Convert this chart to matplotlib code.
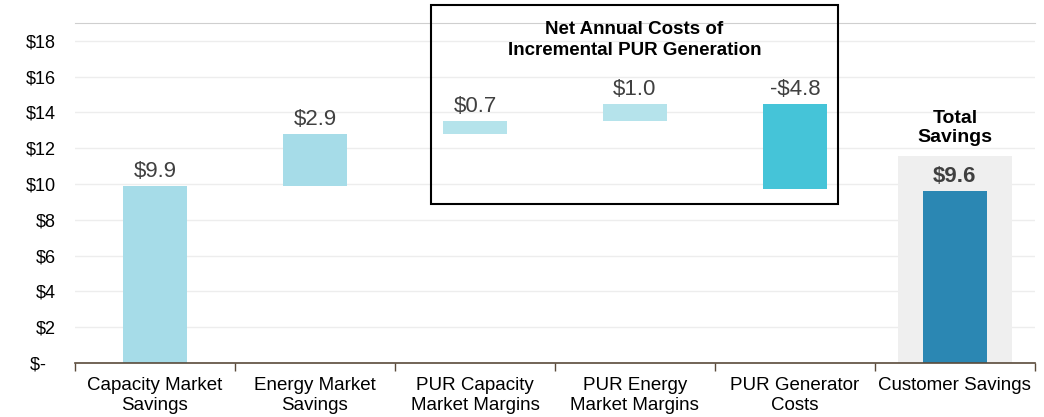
import matplotlib.pyplot as plt
from matplotlib.patches import Rectangle

plt.rcParams['font.family'] = ['Liberation Sans', 'DejaVu Sans']

categories = ['Capacity Market\nSavings', 'Energy Market\nSavings', 'PUR Capacity\nMarket Margins',
              'PUR Energy\nMarket Margins', 'PUR Generator\nCosts', 'Customer Savings']
changes = [9.9, 2.9, 0.7, 1.0, -4.8]
total = 9.6
labels = ['$9.9', '$2.9', '$0.7', '$1.0', '-$4.8', '$9.6']
colors = ['#a6dce8', '#a6dce8', '#b5e3eb', '#b5e3eb', '#45c4d8', '#2b87b3']
yticks = [0, 2, 4, 6, 8, 10, 12, 14, 16, 18]
ytick_labels = ['$-  ', '$2', '$4', '$6', '$8', '$10', '$12', '$14', '$16', '$18']

# waterfall bottoms / heights
bottoms = []
heights = []
running = 0.0
for c in changes:
    if c >= 0:
        bottoms.append(running)
        heights.append(c)
    else:
        bottoms.append(running + c)
        heights.append(-c)
    running += c
bottoms.append(0)
heights.append(total)

fig = plt.figure(figsize=(10.44, 4.17), dpi=100)
ax = fig.add_axes([0.0718, 0.1295, 0.9195, 0.8153])

x = list(range(len(categories)))

# gray backdrop for the total
ax.bar(5, 11.55, width=0.71, color='#efefef', zorder=1)
ax.bar(x, heights, bottom=bottoms, width=0.4, color=colors, zorder=2)

for i, (b, h, lab) in enumerate(zip(bottoms, heights, labels)):
    top = b + h
    if i == 5:
        ax.text(i, top + 0.25, lab, ha='center', va='bottom', fontsize=16,
                fontweight='bold', color='#404040', zorder=3)
    else:
        ax.text(i, top + 0.22, lab, ha='center', va='bottom', fontsize=16,
                color='#404040', zorder=3)

ax.text(5, 12.15, 'Total\nSavings', ha='center', va='bottom', fontsize=14,
        fontweight='bold', color='black', linespacing=1.1)

ax.set_xlim(-0.5, 5.5)
ax.set_ylim(0, 19)
ax.set_yticks(yticks)
ax.set_yticklabels(ytick_labels, fontsize=13)
ax.tick_params(axis='y', length=0, pad=14)
ax.set_xticks(x)
ax.set_xticklabels(categories, fontsize=13.5, linespacing=1.25)
ax.tick_params(axis='x', length=0, pad=10)
# separators between categories on the baseline
ax.set_xticks([i - 0.5 for i in range(len(categories) + 1)], minor=True)
ax.tick_params(axis='x', which='minor', length=6, color='#5a4a3a', width=1)

ax.grid(axis='y', color='#ededed', linewidth=1, zorder=0)
ax.set_axisbelow(True)
for s in ['left', 'right']:
    ax.spines[s].set_visible(False)
ax.spines['top'].set_color('#cfcfcf')
ax.spines['bottom'].set_color('#5a4a3a')
ax.spines['bottom'].set_linewidth(1.2)

# inset box for PUR items (figure coordinates)
box = Rectangle((431 / 1044, 1 - 204 / 417), (838 - 431) / 1044, (204 - 5) / 417,
                transform=fig.transFigure, fill=False, edgecolor='black', linewidth=1.5,
                zorder=5)
fig.patches.append(box)
fig.text((431 + 838) / 2 / 1044, 1 - 40 / 417, 'Net Annual Costs of\nIncremental PUR Generation',
         ha='center', va='center', fontsize=13.5, fontweight='bold', linespacing=1.25)

fig.savefig('out.png', dpi=100)
